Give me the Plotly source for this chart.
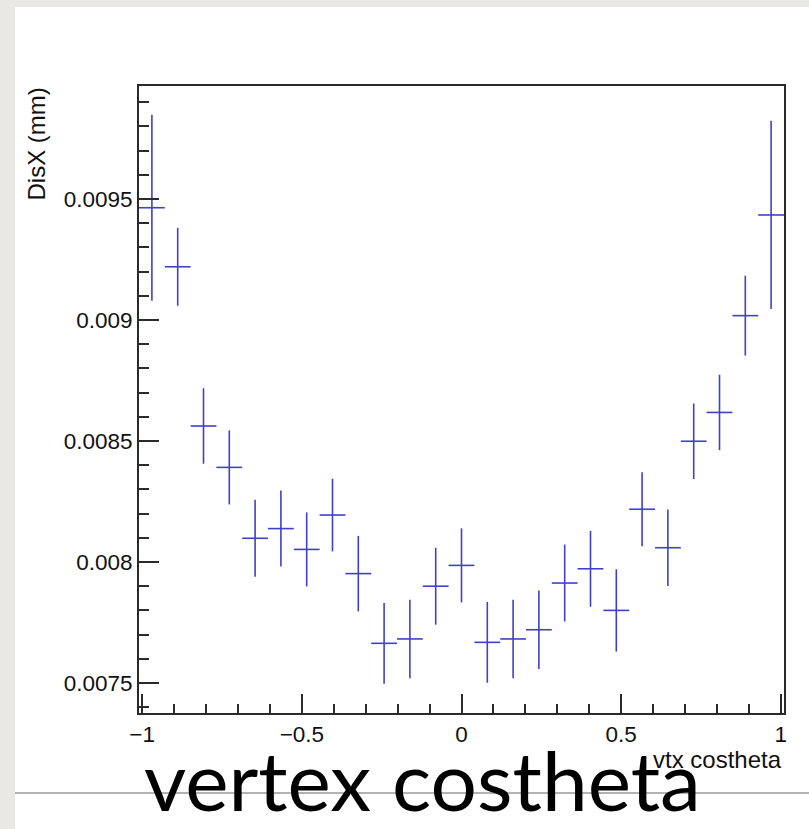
import plotly.graph_objects as go

W, H = 809, 829

# bin centres (25 bins on [-1.01, 1.01])
x_centers = [-0.9696, -0.8888, -0.8080, -0.7272, -0.6464, -0.5656, -0.4848, -0.4040,
             -0.3232, -0.2424, -0.1616, -0.0808, 0.0, 0.0808, 0.1616, 0.2424, 0.3232,
             0.4040, 0.4848, 0.5656, 0.6464, 0.7272, 0.8080, 0.8888, 0.9696]
x_halfwidth = [0.0404] * 25

disx = [0.009464, 0.009220, 0.008562, 0.008391, 0.008098, 0.008138, 0.008052, 0.008194,
        0.007952, 0.007664, 0.007682, 0.007900, 0.007986, 0.007668, 0.007682, 0.007720,
        0.007913, 0.007972, 0.007800, 0.008218, 0.008059, 0.008499, 0.008618, 0.009018,
        0.009434]
disx_err = [0.000384, 0.000161, 0.000156, 0.000153, 0.000159, 0.000157, 0.000153, 0.000150,
            0.000156, 0.000167, 0.000162, 0.000159, 0.000153, 0.000167, 0.000162, 0.000162,
            0.000159, 0.000157, 0.000170, 0.000153, 0.000158, 0.000156, 0.000156, 0.000165,
            0.000389]

x_ticks = [-1, -0.5, 0, 0.5, 1]
x_ticklabels = ["\u22121", "\u22120.5", "0", "0.5", "1"]
y_ticks = [0.0075, 0.008, 0.0085, 0.009, 0.0095]
y_ticklabels = ["0.0075", "0.008", "0.0085", "0.009", "0.0095"]

x_title = "vtx costheta"
y_title = "DisX (mm)"
slide_title = "vertex costheta"

line_col = "#4040c8"
axis_col = "#2a2a2a"

def px(x):
    return x / W

def py(y):
    return 1 - y / H

fig = go.Figure()
fig.add_trace(go.Scatter(
    x=x_centers, y=disx, mode="markers",
    marker=dict(size=1, color=line_col, opacity=0),
    error_y=dict(type="data", array=disx_err, visible=True, color=line_col, thickness=1.6, width=0),
    error_x=dict(type="data", array=x_halfwidth, visible=True, color=line_col, thickness=1.6, width=0),
    showlegend=False, hoverinfo="x+y",
))

tickfont = dict(family="Liberation Sans, Arial, sans-serif", size=22.5, color="#111")

fig.update_layout(
    width=W, height=H,
    autosize=False,
    margin=dict(l=0, r=0, t=0, b=0, pad=0),
    paper_bgcolor="#e9e8e4",
    plot_bgcolor="white",
    xaxis=dict(
        domain=[px(139), px(784)], range=[-1.01, 1.01],
        automargin=False,
        showgrid=False, zeroline=False,
        showline=True, linecolor=axis_col, linewidth=1.5, mirror=True,
        ticks="inside", ticklen=19, tickwidth=1.5, tickcolor=axis_col,
        tickvals=x_ticks, ticktext=x_ticklabels, tickfont=tickfont,
        minor=dict(dtick=0.1, tick0=0, ticks="inside", ticklen=9, tickwidth=1.5, tickcolor=axis_col),
    ),
    yaxis=dict(
        domain=[py(713), py(86)], range=[0.007376, 0.009967],
        automargin=False,
        showgrid=False, zeroline=False,
        showline=True, linecolor=axis_col, linewidth=1.8, mirror=True,
        ticks="inside", ticklen=20, tickwidth=1.5, tickcolor=axis_col,
        tickvals=y_ticks, ticktext=y_ticklabels, tickfont=tickfont,
        minor=dict(dtick=0.0001, tick0=0, ticks="inside", ticklen=10, tickwidth=1.5, tickcolor=axis_col),
    ),
    shapes=[
        dict(type="rect", xref="paper", yref="paper", x0=px(15), x1=1, y0=0, y1=py(7),
             fillcolor="white", line=dict(width=0), layer="below"),
        dict(type="line", xref="paper", yref="paper", x0=px(15), x1=1, y0=py(793), y1=py(793),
             line=dict(color="#666", width=1), layer="below"),
    ],
    annotations=[
        dict(text=x_title, xref="paper", yref="paper", x=px(784), y=py(759),
             xanchor="right", yanchor="middle", showarrow=False,
             font=dict(family="Liberation Sans, Arial, sans-serif", size=24, color="#111")),
        dict(text=y_title, xref="paper", yref="paper", x=px(36), y=py(86),
             xanchor="center", yanchor="top", textangle=-90, showarrow=False,
             font=dict(family="Liberation Sans, Arial, sans-serif", size=24, color="#111")),
        dict(text=slide_title, xref="paper", yref="paper", x=px(422.5), y=0,
             xanchor="center", yanchor="bottom", showarrow=False, borderpad=0,
             font=dict(family="Lato, sans-serif", size=82, color="#000")),
    ],
)

fig.write_html("out.html")
